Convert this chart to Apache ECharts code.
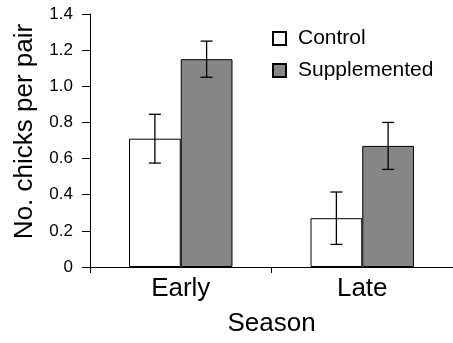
<!DOCTYPE html>
<html>
<head>
<meta charset="utf-8">
<script src="https://cdn.jsdelivr.net/npm/echarts@6/dist/echarts.min.js"></script>
<style>
    html, body { margin: 0; padding: 0; background: #fff; }
    #chart1 { width: 453px; height: 343px; }
</style>
</head>
<body>
<div id="chart1"></div>
<script>
// data
var categories = ["Early", "Late"];
var seriesNames = ["Control", "Supplemented"];
var controlMeans = [0.71, 0.27];
var controlErr = [0.135, 0.145];
var suppMeans = [1.15, 0.67];
var suppErr = [0.10, 0.13];
var yTicks = [0, 0.2, 0.4, 0.6, 0.8, 1.0, 1.2, 1.4];

var FONT = "'Liberation Sans', Arial, sans-serif";
var CAT_GAP = 0.43;

var index = {
    init: function () {
        var mychart = echarts.init(document.getElementById("chart1"));
        this.loadbarchart(mychart);
    },
    errdata: function (means, errs) {
        return means.map(function (m, i) {
            return [i, m - errs[i], m + errs[i]];
        });
    },
    errseries: function (name, data, side) {
        return {
            name: name + " SE",
            type: "custom",
            z: 5,
            silent: true,
            encode: { x: 0, y: [1, 2] },
            data: data,
            renderItem: function (params, api) {
                var band = api.size([1, 0])[0];
                var bw = band * (1 - CAT_GAP) / 2;
                var lo = api.coord([api.value(0), api.value(1)]);
                var hi = api.coord([api.value(0), api.value(2)]);
                var x = lo[0] + side * bw / 2;
                var cap = 6;
                var style = { stroke: "#000", lineWidth: 1.3 };
                return {
                    type: "group",
                    children: [
                        { type: "line", shape: { x1: x, y1: lo[1], x2: x, y2: hi[1] }, style: style },
                        { type: "line", shape: { x1: x - cap, y1: lo[1], x2: x + cap, y2: lo[1] }, style: style },
                        { type: "line", shape: { x1: x - cap, y1: hi[1], x2: x + cap, y2: hi[1] }, style: style }
                    ]
                };
            }
        };
    },
    loadbarchart: function (chart) {
        var option = {
            backgroundColor: "#fff",
            animation: false,
            grid: { left: 90, right: -1, top: 14, bottom: 76 },
            legend: {
                data: seriesNames,
                orient: "vertical",
                left: 267,
                top: 23,
                itemWidth: 13,
                itemHeight: 13,
                itemGap: 11,
                icon: "rect",
                textStyle: { color: "#000", fontSize: 21, fontFamily: FONT, padding: [0, 0, 0, 7] }
            },
            xAxis: {
                type: "category",
                data: categories,
                name: "Season",
                nameLocation: "middle",
                nameGap: 44,
                nameTextStyle: { color: "#000", fontSize: 26, fontFamily: FONT },
                axisLine: { lineStyle: { color: "#000", width: 1 } },
                axisTick: { show: true, length: 6, lineStyle: { color: "#000" } },
                axisLabel: { color: "#000", fontSize: 26, fontFamily: FONT, margin: 9 }
            },
            yAxis: {
                type: "value",
                min: yTicks[0],
                max: yTicks[yTicks.length - 1],
                interval: 0.2,
                name: "No. chicks per pair",
                nameLocation: "middle",
                nameGap: 52,
                nameTextStyle: { color: "#000", fontSize: 26, fontFamily: FONT, padding: [0, 0, 0, 18] },
                splitLine: { show: false },
                axisLine: { show: true, lineStyle: { color: "#000", width: 1 } },
                axisTick: { show: true, length: 8, lineStyle: { color: "#000" } },
                axisLabel: {
                    color: "#000", fontSize: 17, fontFamily: FONT, margin: 17,
                    formatter: function (v) { return v === 0 ? "0" : v.toFixed(1); }
                }
            },
            series: [
                {
                    name: seriesNames[0],
                    type: "bar",
                    data: controlMeans,
                    barGap: "0%",
                    barCategoryGap: (CAT_GAP * 100) + "%",
                    itemStyle: { color: "#fff", borderColor: "#000", borderWidth: 1 }
                },
                {
                    name: seriesNames[1],
                    type: "bar",
                    data: suppMeans,
                    itemStyle: { color: "#868686", borderColor: "#000", borderWidth: 1 }
                },
                this.errseries(seriesNames[0], this.errdata(controlMeans, controlErr), -1),
                this.errseries(seriesNames[1], this.errdata(suppMeans, suppErr), 1)
            ]
        };
        chart.setOption(option);
    }
};

index.init();
</script>
</body>
</html>
